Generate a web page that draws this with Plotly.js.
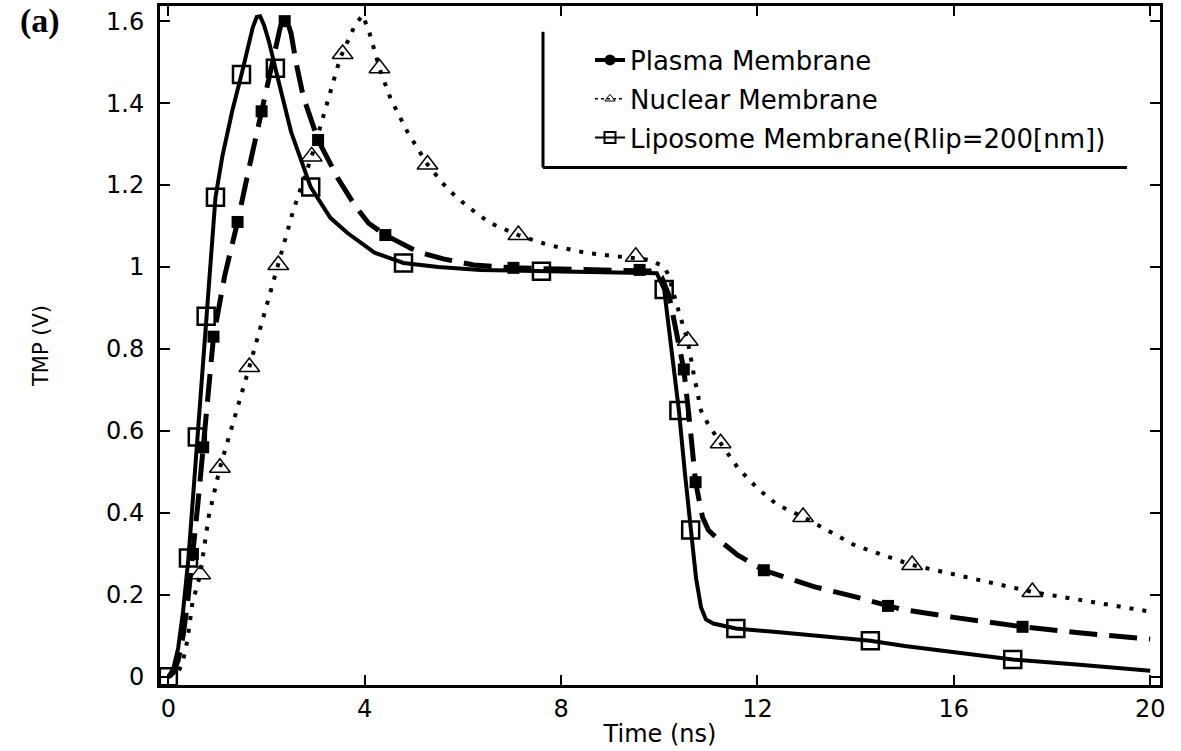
<!DOCTYPE html>
<html>
<head>
<meta charset="utf-8">
<script src="https://cdn.plot.ly/plotly-3.0.1.min.js"></script>
<style>html,body{margin:0;padding:0;background:#fff;}#chart{width:1181px;height:751px;}</style>
</head>
<body>
<div id="chart"></div>
<script>
// Series names
const seriesNames = ["Plasma Membrane", "Nuclear Membrane", "Liposome Membrane(Rlip=200[nm])"];

// Plasma membrane (dashed curve, filled squares)
const plasmaX = [0,0.1,0.2,0.3,0.4,0.5,0.6,0.71,0.8,0.92,1.15,1.41,1.65,1.9,2.1,2.2,2.28,2.35,2.42,2.5,2.6,2.75,3.05,3.45,3.8,4.08,4.42,5.08,5.6,6.22,7.03,8,9,9.9,10.05,10.2,10.35,10.5,10.62,10.74,10.88,11.0,11.2,11.6,12.13,13.15,14.0,14.92,16,17.4,18.5,20];
const plasmaY = [0,0.01,0.04,0.1,0.19,0.3,0.42,0.56,0.67,0.83,0.98,1.11,1.245,1.38,1.49,1.545,1.585,1.605,1.6,1.57,1.5,1.415,1.31,1.217,1.15,1.107,1.078,1.037,1.02,1.005,0.998,0.995,0.993,0.99,0.975,0.93,0.84,0.75,0.62,0.475,0.39,0.358,0.335,0.297,0.26,0.22,0.195,0.165,0.145,0.122,0.108,0.092];
const plasmaMarkX = [0.5,0.71,0.92,1.41,1.9,2.37,3.05,4.42,7.03,9.6,10.5,10.74,12.13,14.66,17.4];
const plasmaMarkY = [0.3,0.56,0.83,1.11,1.38,1.6,1.31,1.078,0.998,0.993,0.75,0.475,0.26,0.173,0.122];

// Nuclear membrane (dotted curve, open triangles)
const nuclearX = [0,0.2,0.3,0.39,0.49,0.65,0.82,1.05,1.65,2.24,2.55,2.92,3.5,3.8,3.96,4.1,4.3,4.53,4.87,5.28,5.69,6.1,6.56,7.13,7.73,8.54,9.17,9.83,10.1,10.19,10.4,10.58,10.7,10.85,10.98,11.25,11.6,12.0,12.4,12.93,14.0,15.15,17.6,20];
const nuclearY = [0,0.01,0.04,0.09,0.18,0.25,0.39,0.51,0.756,1.005,1.14,1.27,1.51,1.59,1.615,1.57,1.485,1.41,1.33,1.25,1.19,1.147,1.107,1.078,1.054,1.034,1.025,1.017,1.0,0.98,0.89,0.82,0.74,0.65,0.62,0.57,0.51,0.46,0.42,0.39,0.32,0.273,0.207,0.159];
const nuclearMarkX = [0.65,1.05,1.65,2.24,2.92,3.55,4.3,5.28,7.13,9.52,10.58,11.25,12.93,15.15,17.6];
const nuclearMarkY = [0.25,0.51,0.756,1.005,1.27,1.52,1.485,1.25,1.078,1.025,0.82,0.57,0.39,0.273,0.207];

// Liposome membrane (solid curve, open squares)
const liposomeX = [0,0.1,0.2,0.3,0.41,0.5,0.59,0.68,0.77,0.87,0.96,1.1,1.3,1.49,1.62,1.72,1.8,1.87,1.95,2.05,2.18,2.5,2.9,3.3,3.65,4.2,4.79,5.5,6.36,7.6,9,9.95,10.1,10.25,10.4,10.52,10.64,10.75,10.85,10.95,11.1,11.56,12.5,13.5,14.3,15,16,17.2,18.5,20];
const liposomeY = [0,0.02,0.07,0.16,0.29,0.43,0.585,0.73,0.88,1.03,1.17,1.27,1.38,1.47,1.54,1.585,1.61,1.612,1.59,1.55,1.485,1.33,1.195,1.12,1.083,1.035,1.01,1.0,0.993,0.99,0.988,0.985,0.945,0.8,0.65,0.5,0.358,0.24,0.17,0.14,0.13,0.118,0.108,0.098,0.088,0.075,0.06,0.042,0.03,0.015];
const liposomeMarkX = [0,0.41,0.59,0.77,0.96,1.49,2.18,2.9,4.79,7.6,10.1,10.4,10.64,11.56,14.3,17.2];
const liposomeMarkY = [0,0.29,0.585,0.88,1.17,1.47,1.485,1.195,1.01,0.99,0.945,0.65,0.358,0.118,0.088,0.042];

// Axis ticks
const xTicks = [0,4,8,12,16,20];
const yTicks = [0,0.2,0.4,0.6,0.8,1,1.2,1.4,1.6];

const FONT = "DejaVu Sans, Verdana, sans-serif";

const plasmaLine = {dash: "28px,12px", width: 5, color: "#000"};
const nuclearLine = {dash: "4px,9px", width: 4, color: "#000"};
const liposomeLine = {dash: "solid", width: 4, color: "#000"};
const plasmaMarker = {symbol: "square", size: 12, color: "#000"};
const nuclearMarker = {symbol: "triangle-up-open", size: 18, color: "#000", line: {width: 1.5, color: "#000"}};
const liposomeMarker = {symbol: "square-open", size: 17, color: "#000", line: {width: 2.5, color: "#000"}};

const traces = [
  {x: plasmaX, y: plasmaY, mode: "lines", line: plasmaLine, showlegend: false, hoverinfo: "skip"},
  {x: nuclearX, y: nuclearY, mode: "lines", line: nuclearLine, showlegend: false, hoverinfo: "skip"},
  {x: liposomeX, y: liposomeY, mode: "lines", line: liposomeLine, showlegend: false, hoverinfo: "skip"},
  {x: plasmaMarkX, y: plasmaMarkY, mode: "markers", marker: plasmaMarker, showlegend: false},
  {x: nuclearMarkX, y: nuclearMarkY, mode: "markers", marker: nuclearMarker, showlegend: false},
  {x: liposomeMarkX, y: liposomeMarkY, mode: "markers", marker: liposomeMarker, showlegend: false},
  // legend entries
  {x: [null], y: [null], name: seriesNames[0], legendgroup: "a", mode: "lines+markers", line: {width: 4, color: "#000"}, marker: {symbol: "circle", size: 11, color: "#000"}},
  {x: [null], y: [null], name: seriesNames[1], legendgroup: "b", mode: "lines+markers", line: {width: 1.5, dash: "dot", color: "#000"}, marker: {symbol: "triangle-up-open", size: 9, color: "#000", line: {width: 1}}},
  {x: [null], y: [null], name: seriesNames[2], legendgroup: "c", mode: "lines+markers", line: {width: 2, color: "#000"}, marker: {symbol: "square-open", size: 11, color: "#000", line: {width: 2}}}
];

const layout = {
  width: 1181, height: 751,
  margin: {l: 160, r: 21, t: 6, b: 66},
  paper_bgcolor: "#fff", plot_bgcolor: "#fff",
  font: {family: FONT, size: 24, color: "#000"},
  showlegend: true,
  legend: {x: 0.43, y: 0.955, xanchor: "left", yanchor: "top", bgcolor: "rgba(0,0,0,0)", borderwidth: 0,
           font: {family: FONT, size: 26, color: "#000"}, tracegroupgap: 2},
  xaxis: {
    range: [-0.17, 20.2], tickvals: xTicks, ticks: "inside", ticklen: 10, tickwidth: 2, tickcolor: "#000",
    showline: true, linewidth: 3, linecolor: "#000", mirror: "ticks", showgrid: false, zeroline: false,
    tickfont: {family: FONT, size: 24},
    title: {text: "Time (ns)", font: {family: FONT, size: 24}, standoff: 4}
  },
  yaxis: {
    range: [-0.02, 1.637], tickvals: yTicks, ticks: "inside", ticklen: 10, tickwidth: 2, tickcolor: "#000",
    showline: true, linewidth: 3, linecolor: "#000", mirror: "ticks", showgrid: false, zeroline: false,
    tickfont: {family: FONT, size: 24}, ticklabelstandoff: 8,
    title: {text: "TMP (V)", font: {family: FONT, size: 21}, standoff: 52}
  },
  shapes: [
    {type: "line", xref: "paper", yref: "paper", x0: 0.383, x1: 0.383, y0: 0.962, y1: 0.762, line: {color: "#000", width: 3}},
    {type: "line", xref: "paper", yref: "paper", x0: 0.383, x1: 0.967, y0: 0.762, y1: 0.762, line: {color: "#000", width: 3}}
  ],
  annotations: [
    {text: "<b>(a)</b>", xref: "paper", yref: "paper", x: -0.12, y: 0.978, xanchor: "center", yanchor: "middle",
     showarrow: false, font: {family: "Liberation Serif, serif", size: 34, color: "#000"}}
  ]
};

Plotly.newPlot("chart", traces, layout, {displayModeBar: false, staticPlot: true});
</script>
</body>
</html>
